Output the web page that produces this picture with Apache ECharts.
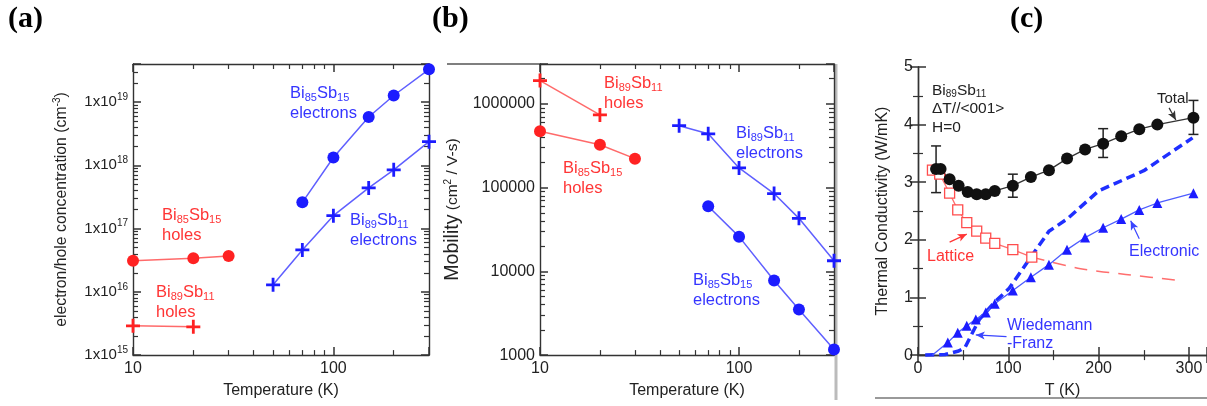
<!DOCTYPE html>
<html>
<head>
<meta charset="utf-8">
<script src="https://cdn.jsdelivr.net/npm/echarts@6.0.0/dist/echarts.min.js"></script>
<style>
  html, body { margin: 0; background: #fff; }
  #chart { width: 1207px; height: 406px; }
</style>
</head>
<body>
<div id="chart"></div>
<script>
// (a) carrier concentration vs temperature
const concT_e85 = [70, 100, 150, 200, 300];
const conc_e85 = [2.6e17, 1.33e18, 5.8e18, 1.27e19, 3.3e19];
const concT_e89 = [50, 70, 100, 150, 200, 300];
const conc_e89 = [1.29e16, 4.6e16, 1.6e17, 4.4e17, 8.5e17, 2.37e18];
const concT_h85 = [10, 20, 30];
const conc_h85 = [3.1e16, 3.4e16, 3.7e16];
const concT_h89 = [10, 20];
const conc_h89 = [2.9e15, 2.8e15];

// (b) mobility vs temperature
const mobT_h89 = [10, 20];
const mob_h89 = [1.9e6, 7.4e5];
const mobT_h85 = [10, 20, 30];
const mob_h85 = [4.73e5, 3.26e5, 2.22e5];
const mobT_e89 = [50, 70, 100, 150, 200, 300];
const mob_e89 = [5.5e5, 4.4e5, 1.72e5, 8.5e4, 4.3e4, 1.34e4];
const mobT_e85 = [70, 100, 150, 200, 300];
const mob_e85 = [6.0e4, 2.6e4, 7.8e3, 3.5e3, 1.17e3];

// (c) thermal conductivity of Bi89Sb11
const kT_total = [20, 25, 35, 45, 55, 65, 75, 85, 105, 125, 145, 165, 185, 205, 225, 245, 265, 305];
const k_total = [3.23, 3.23, 3.05, 2.94, 2.83, 2.79, 2.79, 2.85, 2.94, 3.09, 3.21, 3.41, 3.57, 3.67, 3.80, 3.92, 4.00, 4.12];
const errT = [20, 105, 205, 305];
const errLow = [2.82, 2.74, 3.43, 3.83];
const errHigh = [3.63, 3.14, 3.93, 4.42];
const kT_lat = [16, 24, 35, 44, 54, 65, 75, 85, 105, 126];
const k_lat = [3.21, 3.14, 2.81, 2.52, 2.30, 2.15, 2.03, 1.94, 1.83, 1.70];
const kT_latExt = [126, 180, 230, 292];
const k_latExt = [1.70, 1.50, 1.40, 1.29];
const kT_el = [33, 44, 54, 64, 75, 85, 105, 125, 145, 165, 185, 205, 225, 245, 265, 305];
const k_el = [0.22, 0.39, 0.51, 0.62, 0.74, 0.89, 1.12, 1.35, 1.57, 1.83, 2.04, 2.21, 2.36, 2.52, 2.64, 2.81];
const kT_wf = [8, 30, 45, 52, 60, 68, 85, 101, 125, 145, 165, 200, 250, 304];
const k_wf = [0, 0.01, 0.07, 0.13, 0.38, 0.62, 0.92, 1.16, 1.70, 2.15, 2.36, 2.85, 3.20, 3.77];

const FONT = 'Liberation Sans, Arial, Helvetica, sans-serif';
const RED = '#ff2222', RED_LINE = '#ff6a6a', RED_TEXT = '#ff3535';
const BLUE = '#1c1cff', BLUE_LINE = '#5f5fff', BLUE_TEXT = '#3535ff';
const AXIS_COLOR = '#333';
const plusPath = 'path://M4,0h2v4h4v2h-4v4h-2v-4h-4v-2h4z';

const pairs = (xs, ys) => xs.map((x, i) => [x, ys[i]]);

function axis(type, gridIndex, position, min, max, extra) {
  return Object.assign({
    type, gridIndex, position, min, max,
    axisLine: { show: true, lineStyle: { color: AXIS_COLOR, width: 1.4 } },
    axisTick: { show: true, inside: true, length: 8, lineStyle: { color: AXIS_COLOR, width: 1.5 } },
    minorTick: { show: true, splitNumber: type === 'log' ? 9 : 2, length: 5, lineStyle: { color: AXIS_COLOR, width: 1.2 } },
    splitLine: { show: false },
    axisLabel: { show: false }
  }, extra);
}

const tickLabel = (size, formatter, showMax) => ({
  show: true, fontSize: size, color: '#222', fontFamily: FONT, margin: 5,
  showMaxLabel: !!showMax, formatter,
  rich: {
    n: { fontSize: size, fontFamily: FONT, color: '#222', lineHeight: 20 },
    sup: { fontSize: 10, fontFamily: FONT, color: '#222', lineHeight: 10, verticalAlign: 'top' }
  }
});

const nameStyle = (size, extraRich) => ({
  fontSize: size, fontFamily: FONT, color: '#222', lineHeight: 20,
  rich: Object.assign({
    sup: { fontSize: 10, fontFamily: FONT, color: '#222', lineHeight: 10, verticalAlign: 'top' }
  }, extraRich || {})
});

const expFormatter = v => '{n|1x10}{sup|' + Math.round(Math.log10(v)) + '}';
const plainFormatter = v => String(Math.round(v));

const xAxes = [
  axis('log', 0, 'bottom', 10, 300, { logBase: 10, name: 'Temperature (K)', nameLocation: 'middle', nameGap: 22,
    nameTextStyle: nameStyle(16), axisLabel: tickLabel(16, plainFormatter) }),
  axis('log', 0, 'top', 10, 300, { logBase: 10 }),
  axis('log', 1, 'bottom', 10, 300, { logBase: 10, name: 'Temperature (K)', nameLocation: 'middle', nameGap: 22,
    nameTextStyle: nameStyle(16), axisLabel: tickLabel(16, plainFormatter) }),
  axis('log', 1, 'top', 10, 300, { logBase: 10 }),
  axis('value', 2, 'bottom', 0, 320, { interval: 100, name: 'T (K)', nameLocation: 'middle', nameGap: 20,
    nameTextStyle: nameStyle(16), axisLabel: tickLabel(16) }),
  axis('value', 2, 'top', 0, 320, { interval: 100 })
];

const yAxes = [
  axis('log', 0, 'left', 1e15, 4e19, { logBase: 10, name: 'electron/hole concentration (cm{sup|-3})',
    nameLocation: 'middle', nameRotate: 90, nameGap: 61, nameTextStyle: nameStyle(15.8),
    axisLabel: tickLabel(15, expFormatter) }),
  axis('log', 0, 'right', 1e15, 4e19, { logBase: 10 }),
  axis('log', 1, 'left', 1000, 3e6, { logBase: 10, name: '{big|Mobility} (cm{sup|2} / V-s)',
    nameLocation: 'middle', nameRotate: 90, nameGap: 77,
    nameTextStyle: nameStyle(15.5, { big: { fontSize: 19.5, fontFamily: FONT, color: '#222', lineHeight: 20 } }),
    axisLabel: tickLabel(16, plainFormatter) }),
  axis('log', 1, 'right', 1000, 3e6, { logBase: 10 }),
  axis('value', 2, 'left', 0, 5, { interval: 1, name: 'Thermal Conductivity (W/mK)',
    nameLocation: 'middle', nameRotate: 90, nameGap: 25, nameTextStyle: nameStyle(16),
    axisLabel: tickLabel(16, null, true) }),
  axis('value', 2, 'right', 0, 5, { interval: 1 })
];

function lineSeries(xi, yi, data, symbol, size, color, lineColor, extra) {
  return Object.assign({
    type: 'line', xAxisIndex: xi, yAxisIndex: yi, data,
    symbol, symbolSize: size, clip: false,
    itemStyle: { color, opacity: 1 },
    lineStyle: { color: lineColor, width: 1.5 }
  }, extra);
}

function arrow(from, to, color) {
  return [
    { coord: from, symbol: 'none' },
    { coord: to, symbol: 'arrow', symbolSize: [6, 9], lineStyle: { color, width: 1.2, type: 'solid' } }
  ];
}

const series = [
  // (a)
  lineSeries(0, 0, pairs(concT_e85, conc_e85), 'circle', 12, BLUE, BLUE_LINE),
  lineSeries(0, 0, pairs(concT_e89, conc_e89), plusPath, 14, BLUE, BLUE_LINE),
  lineSeries(0, 0, pairs(concT_h85, conc_h85), 'circle', 12, RED, RED_LINE),
  lineSeries(0, 0, pairs(concT_h89, conc_h89), plusPath, 14, RED, RED_LINE),
  // (b)
  lineSeries(2, 2, pairs(mobT_h89, mob_h89), plusPath, 14, RED, RED_LINE),
  lineSeries(2, 2, pairs(mobT_h85, mob_h85), 'circle', 12, RED, RED_LINE),
  lineSeries(2, 2, pairs(mobT_e89, mob_e89), plusPath, 14, BLUE, BLUE_LINE),
  lineSeries(2, 2, pairs(mobT_e85, mob_e85), 'circle', 12, BLUE, BLUE_LINE),
  // (c)
  lineSeries(4, 4, pairs(kT_wf, k_wf), 'none', 0, '#1f2fff', '#1f2fff', {
    lineStyle: { color: '#1f2fff', width: 3.5, type: [9, 5] }
  }),
  lineSeries(4, 4, pairs(kT_latExt, k_latExt), 'none', 0, RED_LINE, RED_LINE, {
    smooth: 0.3, lineStyle: { color: '#ff6e6e', width: 1.5, type: [13, 9] }
  }),
  lineSeries(4, 4, pairs(kT_lat, k_lat), 'rect', 10, '#fff', '#ff6e6e', {
    itemStyle: { color: '#fff', borderColor: '#ff4d4d', borderWidth: 1.3 },
    lineStyle: { color: '#ff6e6e', width: 1.3 },
    markLine: { silent: true, animation: false, label: { show: false }, symbol: ['none', 'arrow'],
      lineStyle: { color: '#ff3535', width: 1.2, type: 'solid' },
      data: [arrow([35, 1.96], [54, 2.10], '#ff3535')] }
  }),
  lineSeries(4, 4, [{ value: [16, 0], symbol: 'none' }].concat(pairs(kT_el, k_el)), 'triangle', 10, BLUE, '#4d5cff', {
    lineStyle: { color: '#4d5cff', width: 1.3 },
    markLine: { silent: true, animation: false, label: { show: false }, symbol: ['none', 'arrow'],
      lineStyle: { color: '#3a45ff', width: 1.2, type: 'solid' },
      data: [arrow([245, 2.02], [235.5, 2.33], '#3a45ff'), arrow([98, 0.32], [64, 0.35], '#3a45ff')] }
  }),
  {
    type: 'custom', xAxisIndex: 4, yAxisIndex: 4,
    data: errT.map((t, i) => [t, errLow[i], errHigh[i]]),
    encode: { x: 0, y: [1, 2] },
    renderItem: (params, api) => {
      const lo = api.coord([api.value(0), api.value(1)]);
      const hi = api.coord([api.value(0), api.value(2)]);
      const w = 5;
      const st = { stroke: '#222', lineWidth: 1.5 };
      return {
        type: 'group',
        children: [
          { type: 'line', shape: { x1: hi[0], y1: hi[1], x2: lo[0], y2: lo[1] }, style: st },
          { type: 'line', shape: { x1: hi[0] - w, y1: hi[1], x2: hi[0] + w, y2: hi[1] }, style: st },
          { type: 'line', shape: { x1: lo[0] - w, y1: lo[1], x2: lo[0] + w, y2: lo[1] }, style: st }
        ]
      };
    }
  },
  lineSeries(4, 4, pairs(kT_total, k_total), 'circle', 12, '#111', '#333', {
    lineStyle: { color: '#333', width: 1.3 },
    markLine: { silent: true, animation: false, label: { show: false }, symbol: ['none', 'arrow'],
      lineStyle: { color: '#333', width: 1, type: 'solid' },
      data: [arrow([278, 4.29], [285.5, 4.08], '#333')] }
  })
];

function chem(a, b, sa, sb) {
  return '{n|' + a + '}{s|' + sa + '}{n|' + b + '}{s|' + sb + '}';
}

function note(left, top, lines, color, size, lh) {
  return {
    type: 'text', left, top, z: 100,
    style: {
      text: lines.join('\n'), fill: color, fontSize: size, fontFamily: FONT, lineHeight: lh,
      rich: {
        n: { fontSize: size, fontFamily: FONT, fill: color, lineHeight: lh },
        s: { fontSize: Math.round(size * 0.64), fontFamily: FONT, fill: color, lineHeight: 10, verticalAlign: 'bottom' }
      }
    }
  };
}

const panelLabel = (left, text) => ({
  type: 'text', left, top: 4, z: 100,
  style: { text, fill: '#000', fontSize: 30, fontWeight: 'bold', fontFamily: 'Liberation Serif, Times New Roman, serif' }
});

const graphic = [
  panelLabel(8, '(a)'),
  panelLabel(432, '(b)'),
  panelLabel(1010, '(c)'),
  // (a) notes
  note(290, 83, [chem('Bi', 'Sb', 85, 15), '{n|electrons}'], BLUE_TEXT, 16.5, 20),
  note(350, 210, [chem('Bi', 'Sb', 89, 11), '{n|electrons}'], BLUE_TEXT, 16.5, 20),
  note(162, 205, [chem('Bi', 'Sb', 85, 15), '{n|holes}'], RED_TEXT, 16.5, 20),
  note(156, 282, [chem('Bi', 'Sb', 89, 11), '{n|holes}'], RED_TEXT, 16.5, 20),
  // (b) notes
  note(604, 73, [chem('Bi', 'Sb', 89, 11), '{n|holes}'], RED_TEXT, 16.5, 20),
  note(563, 158, [chem('Bi', 'Sb', 85, 15), '{n|holes}'], RED_TEXT, 16.5, 20),
  note(736, 123, [chem('Bi', 'Sb', 89, 11), '{n|electrons}'], BLUE_TEXT, 16.5, 20),
  note(693, 270, [chem('Bi', 'Sb', 85, 15), '{n|electrons}'], BLUE_TEXT, 16.5, 20),
  // (c) notes
  note(932, 81, [chem('Bi', 'Sb', 89, 11), '{n|\u0394T//<001>}', '{n|H=0}'], '#222', 15.5, 18.5),
  note(1157, 90, ['{n|Total}'], '#222', 15, 18),
  note(927, 247, ['{n|Lattice}'], RED_TEXT, 16, 20),
  note(1129, 242, ['{n|Electronic}'], BLUE_TEXT, 16, 20),
  note(1007, 317, ['{n|Wiedemann}', '{n|-Franz}'], BLUE_TEXT, 16, 18),
  // borders of the original figure crop
  { type: 'line', shape: { x1: 447, y1: 64, x2: 540, y2: 64 }, style: { stroke: '#555', lineWidth: 1.5 } },
  { type: 'line', shape: { x1: 836, y1: 64, x2: 836, y2: 400 }, style: { stroke: '#bbb', lineWidth: 3 } },
  { type: 'line', shape: { x1: 875, y1: 398, x2: 1207, y2: 398 }, style: { stroke: '#999', lineWidth: 2 } }
];

const chart = echarts.init(document.getElementById('chart'));
chart.setOption({
  animation: false,
  backgroundColor: '#fff',
  grid: [
    { left: 133, top: 64, width: 296, height: 295 },
    { left: 540, top: 64, width: 294, height: 294 },
    { left: 918, top: 67, width: 290, height: 290 }
  ],
  xAxis: xAxes,
  yAxis: yAxes,
  series,
  graphic
});
</script>
</body>
</html>
